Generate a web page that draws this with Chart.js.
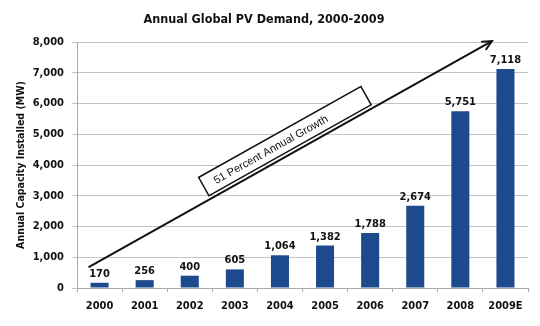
<!DOCTYPE html>
<html>
<head>
<meta charset="utf-8">
<script src="https://cdn.jsdelivr.net/npm/chart.js@4.4.1/dist/chart.umd.min.js"></script>
<style>
  html, body { margin: 0; padding: 0; background: #fff; }
</style>
</head>
<body>
<canvas id="pvChart" width="540" height="326"></canvas>
<script>
const years = ["2000", "2001", "2002", "2003", "2004", "2005", "2006", "2007", "2008", "2009E"];
const demandMW = [170, 256, 400, 605, 1064, 1382, 1788, 2674, 5751, 7118];
const yMax = 8000;
const yStep = 1000;

// growth arrow ends, as [category index, MW]
const arrowFrom = [-0.23, 690];
const arrowTo = [8.7, 8030];
const arrowText = "51 Percent Annual Growth";

const narrow = "'Liberation Sans Narrow', 'DejaVu Sans Condensed', 'Arial Narrow', sans-serif";
const fmt = (v) => v.toLocaleString("en-US");

// numbers above each bar
const barLabels = {
  id: "barLabels",
  afterDatasetsDraw(chart) {
    const ctx = chart.ctx;
    const meta = chart.getDatasetMeta(0);
    ctx.save();
    ctx.font = "bold 11px " + narrow;
    ctx.fillStyle = "#111";
    ctx.textAlign = "center";
    ctx.textBaseline = "alphabetic";
    meta.data.forEach((bar, i) => {
      ctx.fillText(fmt(demandMW[i]), bar.x, bar.y - 6);
    });
    ctx.restore();
  }
};

// the trend arrow and its label box
const growthArrow = {
  id: "growthArrow",
  afterDatasetsDraw(chart) {
    const { ctx, scales: { x, y } } = chart;
    const x0 = x.getPixelForValue(arrowFrom[0]);
    const y0 = y.getPixelForValue(arrowFrom[1]);
    const x1 = x.getPixelForValue(arrowTo[0]);
    const y1 = y.getPixelForValue(arrowTo[1]);
    const a = Math.atan2(y1 - y0, x1 - x0);

    ctx.save();
    ctx.strokeStyle = "#111";
    ctx.lineWidth = 2;
    ctx.lineCap = "round";
    ctx.beginPath();
    ctx.moveTo(x0, y0);
    ctx.lineTo(x1, y1);
    ctx.stroke();
    // head
    const h = 10;
    ctx.beginPath();
    ctx.moveTo(x1 - h * Math.cos(a - 0.45), y1 - h * Math.sin(a - 0.45));
    ctx.lineTo(x1, y1);
    ctx.lineTo(x1 - h * Math.cos(a + 0.45), y1 - h * Math.sin(a + 0.45));
    ctx.stroke();

    // box sitting on the arrow
    ctx.translate(x0 + (x1 - x0) * 0.503, y0 + (y1 - y0) * 0.503);
    ctx.rotate(a);
    const bw = 186, bh = 21, off = -14;
    ctx.fillStyle = "#fff";
    ctx.fillRect(-bw / 2, off - bh / 2, bw, bh);
    ctx.lineWidth = 1.5;
    ctx.strokeRect(-bw / 2, off - bh / 2, bw, bh);
    ctx.fillStyle = "#111";
    ctx.font = "11px 'Liberation Sans', Arial, sans-serif";
    ctx.textAlign = "left";
    ctx.textBaseline = "middle";
    ctx.fillText(arrowText, -bw / 2 + 12, off + 1);
    ctx.restore();
  }
};

new Chart(document.getElementById("pvChart"), {
  type: "bar",
  data: {
    labels: years,
    datasets: [
      {
        data: demandMW,
        backgroundColor: "#1d4a8c",
        barPercentage: 0.4,
        categoryPercentage: 1.0,
      },
    ],
  },
  options: {
    responsive: false,
    animation: false,
    layout: { padding: { top: 0, left: 0, right: 12, bottom: 0 } },
    plugins: {
      legend: { display: false },
      tooltip: { enabled: false },
      title: {
        display: true,
        text: "Annual Global PV Demand, 2000-2009",
        color: "#111",
        font: { family: narrow, size: 12.5, weight: "bold" },
        padding: { top: 12.5, bottom: 14.5 },
      },
    },
    scales: {
      x: {
        grid: { drawOnChartArea: false, drawTicks: true, tickLength: 4, color: "#aaa", offset: true },
        border: { color: "#aaa" },
        ticks: { color: "#111", padding: 8, font: { family: narrow, size: 11, weight: "bold" } },
        afterFit(scale) { scale.height = 38; },
      },
      y: {
        min: 0,
        max: yMax,
        grid: { color: "#c4c4c4", tickLength: 5 },
        border: { color: "#aaa" },
        ticks: {
          stepSize: yStep,
          color: "#111",
          padding: 8,
          font: { family: narrow, size: 11, weight: "bold" },
          callback: (v) => fmt(v),
        },
        title: {
          display: true,
          text: "Annual Capacity Installed (MW)",
          color: "#111",
          font: { family: narrow, size: 10.5, weight: "bold" },
          padding: { top: 15, bottom: 0 },
        },
        afterFit(scale) { scale.width = 77; },
      },
    },
  },
  plugins: [barLabels, growthArrow],
});
</script>
</body>
</html>
